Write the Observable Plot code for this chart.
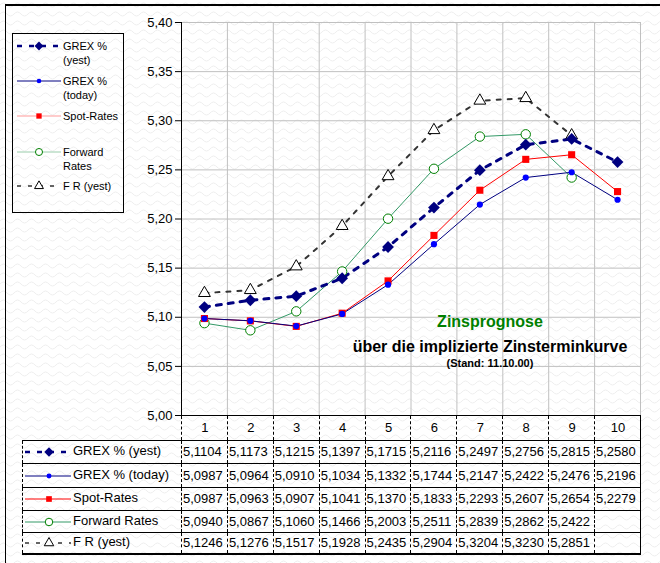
<!DOCTYPE html>
<html><head><meta charset="utf-8">
<script src="https://cdn.jsdelivr.net/npm/d3@7"></script>
<script src="https://cdn.jsdelivr.net/npm/@observablehq/plot@0.6"></script>
<style>
body{margin:0;background:#fff;}
#wrap{position:relative;width:660px;height:563px;overflow:hidden;font-family:"Liberation Sans",Arial,sans-serif;color:#000;background-color:#fff;
background-image:url("data:image/svg+xml,%3Csvg xmlns='http://www.w3.org/2000/svg' width='14' height='9'%3E%3Cpath d='M0 5 q3.5 -4 7 0 t7 0' fill='none' stroke='%23eeeeee' stroke-width='1'/%3E%3C/svg%3E");}
#frame{position:absolute;left:5px;top:4px;width:700px;height:600px;border-top:2px solid #000;border-left:1px solid #000;}
#chart{position:absolute;left:0;top:0;}
#legend{position:absolute;left:12px;top:33px;width:110px;height:178px;border:1px solid #000;font-size:11px;}
#legend .t{position:absolute;left:50px;line-height:14px;white-space:nowrap;}
#legend svg{position:absolute;left:4px;}
#tbl{position:absolute;left:22px;top:415px;border-collapse:collapse;table-layout:fixed;width:618px;font-size:13px;}
#tbl td{padding:0 0 0 1px;white-space:nowrap;overflow:hidden;border-top:1px solid #000;border-bottom:1px solid #000;border-left:1px dashed #000;border-right:1px dashed #000;line-height:14px;}
#tbl tr.hd td{text-align:center;height:24px;}
#tbl tr.hd td.blank{border:none;}
#tbl td.last{border-right:1px solid #000;}
#tbl tr.lastrow td{border-bottom:2px solid #000;}
#tbl td.lab{position:relative;}
#tbl td.lab svg{position:absolute;left:2px;top:50%;margin-top:-7px;}
#tbl td.lab span{position:absolute;left:50px;top:50%;margin-top:-8px;}
</style></head>
<body>
<div id="wrap">
<div id="frame"></div>
<div id="chart"></div>
<div id="legend"></div>
<table id="tbl"></table>
<div style="position:absolute;left:340px;width:300px;text-align:center;font-weight:bold;top:313px;font-size:16px;color:#008000;">Zinsprognose</div>
<div style="position:absolute;left:320px;width:340px;text-align:center;font-weight:bold;top:338px;font-size:16px;">über die implizierte Zinsterminkurve</div>
<div style="position:absolute;left:340px;width:300px;text-align:center;font-weight:bold;top:357px;font-size:11px;">(Stand: 11.10.00)</div>
</div>
<script>
// ---- data ----
const cats = [1, 2, 3, 4, 5, 6, 7, 8, 9, 10];
const grexYest = [5.1104, 5.1173, 5.1215, 5.1397, 5.1715, 5.2116, 5.2497, 5.2756, 5.2815, 5.2580];
const grexToday = [5.0987, 5.0964, 5.0910, 5.1034, 5.1332, 5.1744, 5.2147, 5.2422, 5.2476, 5.2196];
const spotRates = [5.0987, 5.0963, 5.0907, 5.1041, 5.1370, 5.1833, 5.2293, 5.2607, 5.2654, 5.2279];
const forwardRates = [5.0940, 5.0867, 5.1060, 5.1466, 5.2003, 5.2511, 5.2839, 5.2862, 5.2422];
const frYest = [5.1246, 5.1276, 5.1517, 5.1928, 5.2435, 5.2904, 5.3204, 5.3230, 5.2851];
const seriesNames = ["GREX % (yest)", "GREX % (today)", "Spot-Rates", "Forward Rates", "F R (yest)"];
const yTicks = [5.00, 5.05, 5.10, 5.15, 5.20, 5.25, 5.30, 5.35, 5.40];

const fmtY = v => v.toFixed(2).replace(".", ",");
const fmtV = v => v.toFixed(4).replace(".", ",");

const styles = [
  {values: grexYest, stroke: "#000080", width: 3, dash: "5,7", symbol: d3.symbolDiamond2, r: 5.3, fill: "#000080", mstroke: "none"},
  {values: grexToday, stroke: "#000080", width: 1, dash: null, symbol: d3.symbolCircle, r: 3.1, fill: "#0000ff", mstroke: "none"},
  {values: spotRates, stroke: "#ff0000", width: 1, dash: null, symbol: d3.symbolSquare, r: 4, fill: "#ff0000", mstroke: "none"},
  {values: forwardRates, stroke: "#339966", width: 1, dash: null, symbol: d3.symbolCircle, r: 4.7, fill: "#ffffff", mstroke: "#008000"},
  {values: frYest, stroke: "#333333", width: 2, dash: "4,7", symbol: d3.symbolTriangle, r: 4.4, fill: "#ffffff", mstroke: "#000000"}
];

const rows = s => s.values.map((v, i) => ({x: cats[i], y: v}));
const bounds = cats.map(c => c - 0.5).concat([cats[cats.length - 1] + 0.5]);

const marks = [
  Plot.ruleX(bounds, {stroke: "#c0c0c0", strokeOpacity: 1}),
  Plot.ruleY(yTicks.slice(1), {stroke: "#c0c0c0", strokeOpacity: 1}),
  Plot.ruleX([bounds[0]], {stroke: "#000"}),
  Plot.ruleY([yTicks[0]], {stroke: "#000"})
];
for (const s of [styles[4], styles[3], styles[2], styles[1], styles[0]]) {
  marks.push(Plot.line(rows(s), {x: "x", y: "y", stroke: s.stroke, strokeWidth: s.width, strokeDasharray: s.dash || undefined}));
}
for (const s of [styles[4], styles[3], styles[2], styles[1], styles[0]]) {
  marks.push(Plot.dot(rows(s), {x: "x", y: "y", symbol: s.symbol, r: s.r, fill: s.fill, stroke: s.mstroke, strokeWidth: 1}));
}

const chart = Plot.plot({
  width: 660, height: 563,
  marginLeft: 181, marginRight: 20, marginTop: 22, marginBottom: 148,
  style: {fontFamily: "'Liberation Sans', Arial, sans-serif", fontSize: "13px", background: "transparent", color: "#000", overflow: "visible"},
  x: {domain: [bounds[0], bounds[bounds.length - 1]], axis: null},
  y: {domain: [yTicks[0], yTicks[yTicks.length - 1]], ticks: yTicks, tickFormat: fmtY, tickSize: 6, tickPadding: 3, label: null},
  marks
});
document.getElementById("chart").appendChild(chart);

// ---- sample symbol helper (legend/table) ----
function sample(i, w, h, mx, scale) {
  const s = styles[i];
  const ns = "http://www.w3.org/2000/svg";
  const svg = document.createElementNS(ns, "svg");
  svg.setAttribute("width", w); svg.setAttribute("height", h);
  const cy = h / 2;
  const ln = document.createElementNS(ns, "line");
  ln.setAttribute("x1", 0); ln.setAttribute("x2", w); ln.setAttribute("y1", cy); ln.setAttribute("y2", cy);
  let lc = s.stroke;
  if (scale < 0.8 && i === 2) lc = "#ff9999";
  if (scale < 0.8 && i === 3) lc = "#99ccaa";
  ln.setAttribute("stroke", lc);
  ln.setAttribute("stroke-width", Math.max(1, s.width * (scale < 1 ? 0.8 : 1)));
  if (s.dash) ln.setAttribute("stroke-dasharray", s.dash);
  svg.appendChild(ln);
  const p = document.createElementNS(ns, "path");
  p.setAttribute("d", d3.symbol(s.symbol, Math.PI * (s.r * scale) ** 2)());
  p.setAttribute("transform", `translate(${mx},${cy})`);
  p.setAttribute("fill", s.fill); p.setAttribute("stroke", s.mstroke);
  svg.appendChild(p);
  return svg;
}

// ---- legend ----
const legend = document.getElementById("legend");
const legItems = [
  {lines: ["GREX %", "(yest)"], y: 12},
  {lines: ["GREX %", "(today)"], y: 47},
  {lines: ["Spot-Rates"], y: 82},
  {lines: ["Forward", "Rates"], y: 118},
  {lines: ["F R (yest)"], y: 152}
];
legItems.forEach((it, i) => {
  const svg = sample(i, 44, 14, 22, 0.75);
  svg.style.top = (it.y - 7) + "px";
  legend.appendChild(svg);
  const t = document.createElement("div");
  t.className = "t";
  t.style.top = (it.y - 7) + "px";
  t.innerHTML = it.lines.join("<br>");
  legend.appendChild(t);
});

// ---- data table ----
const tbl = document.getElementById("tbl");
const cg = document.createElement("colgroup");
cg.innerHTML = `<col style="width:159px">` + cats.map(() => `<col style="width:45.9px">`).join("");
tbl.appendChild(cg);
const hd = document.createElement("tr");
hd.className = "hd";
hd.innerHTML = `<td class="blank"></td>` + cats.map((c, j) => `<td${j === cats.length - 1 ? ' class="last"' : ""}>${c}</td>`).join("");
tbl.appendChild(hd);
const rowH = [22, 23, 22, 21, 20];
styles.forEach((s, i) => {
  const tr = document.createElement("tr");
  if (i === styles.length - 1) tr.className = "lastrow";
  const lab = document.createElement("td");
  lab.className = "lab";
  lab.style.height = rowH[i] + "px";
  lab.appendChild(sample(i, 46, 14, 24, 0.8));
  const sp = document.createElement("span");
  sp.textContent = seriesNames[i];
  lab.appendChild(sp);
  tr.appendChild(lab);
  cats.forEach((c, j) => {
    const td = document.createElement("td");
    if (j === cats.length - 1) td.className = "last";
    td.textContent = s.values[j] !== undefined ? fmtV(s.values[j]) : "";
    tr.appendChild(td);
  });
  tbl.appendChild(tr);
});
</script>
</body></html>
